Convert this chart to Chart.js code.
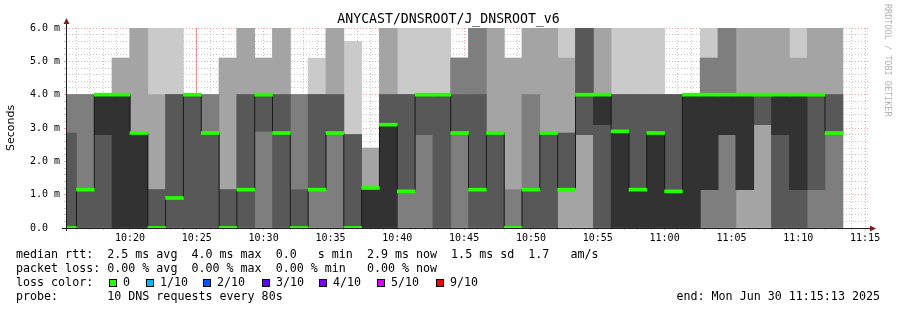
<!DOCTYPE html>
<html>
<head>
<meta charset="utf-8">
<script src="https://cdn.jsdelivr.net/npm/chart.js@4.4.1/dist/chart.umd.min.js"></script>
<style>
  body { margin: 0; background: #fff; }
  #wrap { position: relative; width: 897px; height: 310px; overflow: hidden; }
  #chart { position: absolute; left: 0; top: 0; }
  .leg { position: absolute; left: 16px; font-family: 'DejaVu Sans Mono', monospace; font-size: 11.66px; line-height: 14px; white-space: pre; color: #000; }
  .box { position: absolute; top: 279px; width: 6px; height: 6px; border: 1px solid #000; }
  .lbl { position: absolute; top: 275px; font-family: 'DejaVu Sans Mono', monospace; font-size: 11.66px; line-height: 14px; white-space: pre; }
  #mark { position: absolute; left: 883px; top: 4px; writing-mode: vertical-rl; font-family: 'DejaVu Sans Mono', monospace; font-size: 8.5px; color: #b4b4b4; white-space: pre; }
</style>
</head>
<body>
<div id="wrap">
  <canvas id="chart" width="897" height="310"></canvas>
  <div id="mark">RRDTOOL / TOBI OETIKER</div>
  <div class="leg" style="top:247px">median rtt:  2.5 ms avg  4.0 ms max  0.0   s min  2.9 ms now  1.5 ms sd  1.7   am/s</div>
  <div class="leg" style="top:261px">packet loss: 0.00 % avg  0.00 % max  0.00 % min   0.00 % now</div>
  <div class="leg" style="top:275px">loss color:</div>
  <div id="losses"></div>
  <div class="leg" style="top:289px">probe:       10 DNS requests every 80s</div>
  <div class="leg" style="top:289px; left:auto; right:17px">end: Mon Jun 30 11:15:13 2025</div>
</div>
<script>
// time axis in minutes after 10:00
var viewStart = 15 + 13 / 60;   // 10:15:13
var viewEnd = 75 + 13 / 60;     // 11:15:13
var firstStepEnd = 16;          // 10:16:00, first full 80s step starts here
var stepMin = 80 / 60;

// 10 pings per step, sorted (rank 1 = fastest), in ms
var rank1 = [0,0,0,0,0,0,0,0,0,0, 0,0,0,0,0,0,0,0,0,0, 0,0,0,0,0,0,0,0,0,0, 0,0,0,0,0,0,0,0,0,0, 0,0,0,0];
var rank2 = [0,0,0,0,0,0,0,0,0,0, 0,0,0,0,0,0,0,0,0,0, 0,0,0,0,0,0,0,0,0,0, 0,0,0,0,0,0,0,0,0,0, 0,0,0,0];
var rank3 = [0,0,0,0,0,0,0,0,0,0, 0,0,0,0,0,0,0,0,0,0, 0,0,0,0,0,0,0,0,1.15,2.8, 0,0,0,0,0,0,0,0,1.15,3.1, 0,0,0,0];
var rank4 = [0,0,0,0,0,0,0,0,0,0, 0,2.9,0,0,1.15,2.85,0,0,0,1.1, 2.8,0,2.85,0,0,0,0,0,1.15,2.8, 0,0,0,0,0,0,1.15,2.8,1.15,3.1, 0,0,1.15,2.85];
var rank5 = [0,1.15,2.8,0,0,0,0.9,4,2.85,0, 1.15,4,2.85,0,1.15,2.85,0,0,0,1.1, 4,4,2.85,1.15,2.85,0,1.15,2.85,1.15,4, 3.1,0,0,0,0,0,1.15,2.8,1.15,4, 2.8,1.15,4,2.85];
var rank6 = [0,1.15,4,4,2.85,0,0.9,4,2.85,0, 1.15,4,2.85,0,1.15,2.85,0,1.2,3.1,1.1, 4,4,2.85,1.15,2.85,0,1.15,2.85,1.15,4, 4,2.9,1.15,2.85,1.1,4,4,4,4,4, 4,4,4,2.85];
var rank7 = [2.85,1.15,4,4,2.85,1.15,4,4,2.85,1.15, 4,4,4,1.15,4,4,2.8,1.2,4,4, 4,4,4,4,2.85,0,1.15,2.85,2.85,6, 4,4,4,4,4,4,4,4,4,4, 4,4,4,4];
var rank8 = [4,4,4,4,2.85,1.15,4,4,4,1.15, 4,4,4,4,4,4,2.8,1.2,4,4, 4,4,5.1,6,2.85,1.15,4,2.85,2.85,6, 4,4,4,4,4,4,5.1,6,4,4, 4,4,4,4];
var rank9 = [4,4,4,5.1,6,4,4,4,4,5.1, 6,5.1,6,4,4,6,2.8,2.4,6,4, 4,4,5.1,6,6,5.1,6,6,5.1,6, 6,4,4,4,4,4,5.1,6,6,6, 6,5.1,6,6];
var rank10 = [4,4,4,5.1,6,6,6,4,4,5.1, 6,5.1,6,4,5.1,6,5.6,2.4,6,6, 6,6,5.1,6,6,5.1,6,6,6,6, 6,6,6,6,4,4,6,6,6,6, 6,6,6,6];
var median = rank6;

var ranks = [rank1, rank2, rank3, rank4, rank5, rank6, rank7, rank8, rank9, rank10];
var smokeGray = ['#cacaca', '#a4a4a4', '#7e7e7e', '#585858', '#323232'];
var lossGreen = '#26ff00';
var medianHalf = 0.045;

// step centres
var times = rank1.map(function (v, k) { return firstStepEnd + (k - 0.5) * stepMin; });

var datasets = [];
for (var b = 0; b < 5; b++) {
  var lo = ranks[b], hi = ranks[9 - b];
  datasets.push({
    type: 'bar',
    xAxisID: 'xb',
    data: times.map(function (t, k) { return { x: t, y: [lo[k], hi[k]] }; }),
    backgroundColor: smokeGray[b],
    borderWidth: 0,
    grouped: false,
    barPercentage: 1,
    categoryPercentage: 1,
    order: 10 - b
  });
}
datasets.push({
  type: 'line',
  xAxisID: 'xb',
  data: times.map(function (t, k) { return { x: t, y: median[k] }; }),
  borderColor: '#1a1a1a',
  borderWidth: 1,
  stepped: 'middle',
  pointRadius: 0,
  order: 2
});
datasets.push({
  type: 'bar',
  xAxisID: 'xb',
  data: times.map(function (t, k) { return { x: t, y: [median[k] - medianHalf, median[k] + medianHalf] }; }),
  backgroundColor: lossGreen,
  borderWidth: 0,
  grouped: false,
  barPercentage: 1,
  categoryPercentage: 1,
  order: 1
});

var gridMinor = 'rgba(143,143,143,0.5)';
var gridMajor = 'rgba(222,79,79,0.5)';

function hhmm(m) {
  var h = 10 + Math.floor(m / 60), mm = Math.round(m % 60);
  return h + ':' + (mm < 10 ? '0' : '') + mm;
}

var axisArrows = {
  id: 'axisArrows',
  afterDraw: function (chart) {
    var ctx = chart.ctx, a = chart.chartArea;
    var x0 = Math.round(a.left) + 0.5, y0 = Math.round(a.bottom) + 0.5;
    ctx.save();
    ctx.strokeStyle = '#1f1f1f';
    ctx.lineWidth = 1;
    ctx.beginPath();
    ctx.moveTo(a.left - 4, y0); ctx.lineTo(a.right + 4, y0);
    ctx.moveTo(x0, a.bottom + 3); ctx.lineTo(x0, a.top - 5);
    ctx.stroke();
    ctx.fillStyle = '#7f1f1f';
    ctx.beginPath();
    ctx.moveTo(x0, a.top - 10); ctx.lineTo(x0 - 3, a.top - 4); ctx.lineTo(x0 + 3, a.top - 4); ctx.closePath();
    ctx.fill();
    ctx.beginPath();
    ctx.moveTo(a.right + 8, y0); ctx.lineTo(a.right + 2, y0 - 3); ctx.lineTo(a.right + 2, y0 + 3); ctx.closePath();
    ctx.fill();
    ctx.restore();
  }
};

new Chart(document.getElementById('chart'), {
  data: { datasets: datasets },
  plugins: [axisArrows],
  options: {
    responsive: false,
    animation: false,
    devicePixelRatio: 1,
    events: [],
    layout: { padding: { left: 0, right: 0, top: 0, bottom: 62 } },
    plugins: {
      legend: { display: false },
      tooltip: { enabled: false },
      title: {
        display: true,
        text: 'ANYCAST/DNSROOT/J_DNSROOT_v6',
        color: '#000',
        font: { family: 'DejaVu Sans Mono', size: 13.2, weight: 'normal', lineHeight: '16px' },
        padding: { top: 12, bottom: 0 }
      }
    },
    scales: {
      xb: {
        type: 'linear',
        display: false,
        min: viewStart,
        max: viewEnd,
        offset: false,
        afterBuildTicks: function (s) { s.ticks = []; }
      },
      // quarter-hour marks drawn solid
      xq: {
        type: 'linear',
        position: 'bottom',
        min: viewStart,
        max: viewEnd,
        offset: false,
        z: 2,
        afterBuildTicks: function (s) {
          var t = [];
          for (var m = 25; m <= 75; m += 15) t.push({ value: m });
          s.ticks = t;
        },
        afterFit: function (s) { s.height = 0; },
        ticks: { display: false },
        grid: { color: 'rgba(222,79,79,0.55)', drawTicks: false, lineWidth: 1 },
        border: { display: false }
      },
      x: {
        type: 'linear',
        position: 'bottom',
        min: viewStart,
        max: viewEnd,
        offset: false,
        z: 1,
        afterBuildTicks: function (s) {
          var t = [];
          for (var m = 16; m <= 75; m++) t.push({ value: m });
          s.ticks = t;
        },
        afterFit: function (s) { s.height = 20; },
        ticks: {
          autoSkip: false,
          maxRotation: 0,
          padding: 2,
          color: '#000',
          font: { family: 'DejaVu Sans Mono', size: 10 },
          callback: function (v) { return v % 5 === 0 ? hhmm(v) : ''; }
        },
        grid: {
          color: function (c) { return c.tick && c.tick.value % 5 === 0 ? gridMajor : gridMinor; },
          tickColor: function (c) { return c.tick && c.tick.value % 5 === 0 ? gridMajor : gridMinor; },
          tickLength: 2,
          lineWidth: 1
        },
        border: { display: false, dash: [1, 2] }
      },
      y: {
        type: 'linear',
        min: 0,
        max: 6,
        z: 1,
        afterBuildTicks: function (s) {
          var t = [];
          for (var i = 0; i <= 30; i++) t.push({ value: Math.round(i * 2) / 10 });
          s.ticks = t;
        },
        afterFit: function (s) { s.width = 66; },
        title: {
          display: true,
          text: 'Seconds',
          color: '#000',
          font: { family: 'DejaVu Sans', size: 11 },
          padding: { top: 5, bottom: 0 }
        },
        ticks: {
          autoSkip: false,
          padding: 4,
          color: '#000',
          font: { family: 'DejaVu Sans Mono', size: 10 },
          callback: function (v) {
            if (Math.abs(v - Math.round(v)) > 1e-6) return '';
            return v === 0 ? '0.0  ' : v.toFixed(1) + ' m';
          }
        },
        grid: {
          color: function (c) { return c.tick && Math.abs(c.tick.value - Math.round(c.tick.value)) < 1e-6 ? gridMajor : gridMinor; },
          tickColor: function (c) { return c.tick && Math.abs(c.tick.value - Math.round(c.tick.value)) < 1e-6 ? gridMajor : gridMinor; },
          tickLength: 2,
          lineWidth: 1
        },
        border: { display: false, dash: [1, 2] }
      },
      // empty strip on the right, keeps the title centred on the page
      yr: {
        type: 'linear',
        position: 'right',
        display: true,
        afterFit: function (s) { s.width = 29; },
        ticks: { display: false },
        grid: { display: false },
        border: { display: false }
      }
    }
  }
});

// loss colour legend
var lossLabels = ['0', '1/10', '2/10', '3/10', '4/10', '5/10', '9/10'];
var lossColors = ['#26ff00', '#00b8ff', '#0059ff', '#5e00ff', '#7e00ff', '#dd00ff', '#ff0000'];
var lossBoxX = [109, 146, 203, 262, 319, 377, 436];
var holder = document.getElementById('losses');
lossLabels.forEach(function (l, i) {
  var b = document.createElement('div');
  b.className = 'box';
  b.style.left = lossBoxX[i] + 'px';
  b.style.background = lossColors[i];
  holder.appendChild(b);
  var s = document.createElement('div');
  s.className = 'lbl';
  s.style.left = (lossBoxX[i] + 14) + 'px';
  s.textContent = l;
  holder.appendChild(s);
});
</script>
</body>
</html>
